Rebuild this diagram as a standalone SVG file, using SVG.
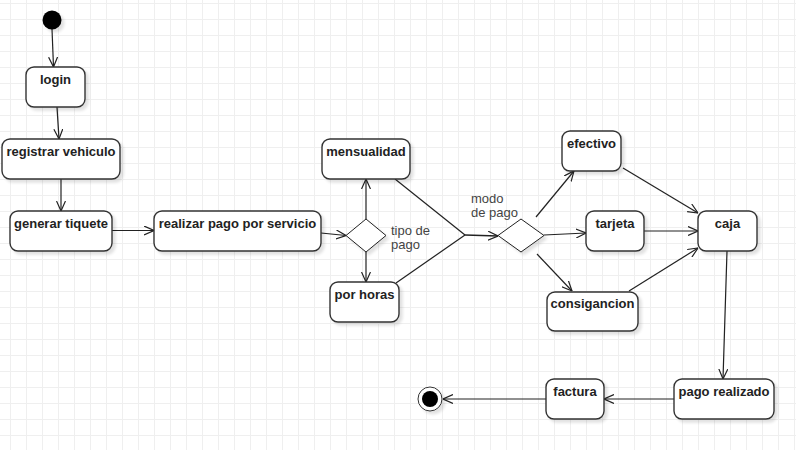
<svg xmlns="http://www.w3.org/2000/svg" width="796" height="450" viewBox="0 0 796 450">
<style>
.node rect{fill:#fff;stroke:#333;stroke-width:1.4;filter:url(#sh)}
.node polygon{fill:#fff;stroke:#222;stroke-width:1;filter:url(#sh)}
.lbl{font-family:"Liberation Sans",Arial,sans-serif;font-size:13px;font-weight:bold;fill:#222;text-anchor:middle}
.note{font-family:"Liberation Sans",Arial,sans-serif;font-size:13px;fill:#444}
.edges line,.edges polyline{stroke:#222;stroke-width:1.2;fill:none}
.arr{marker-end:url(#ah)}
</style>
<defs>
<pattern id="grid" x="10" y="3" width="16" height="16" patternUnits="userSpaceOnUse">
<path d="M0 0.5H16M0.5 0V16" stroke="#efefef" stroke-width="1" fill="none"/>
</pattern>
<filter id="sh" x="-20%" y="-20%" width="150%" height="160%">
<feGaussianBlur in="SourceAlpha" stdDeviation="1.5"/>
<feOffset dx="3" dy="3" result="b"/>
<feComponentTransfer><feFuncA type="linear" slope="0.12"/></feComponentTransfer>
<feMerge><feMergeNode/><feMergeNode in="SourceGraphic"/></feMerge>
</filter>
<marker id="ah" viewBox="0 0 10 10" refX="10" refY="5" markerWidth="10" markerHeight="10" markerUnits="userSpaceOnUse" orient="auto">
<path d="M0,0.5L10,5L0,9.5" fill="none" stroke="#222" stroke-width="1.2"/>
</marker>
</defs>
<rect width="796" height="450" fill="#fff"/>
<rect width="796" height="450" fill="url(#grid)"/>

<g class="edges">
<line class="arr" x1="52" y1="29" x2="53.5" y2="67"/>
<line class="arr" x1="57" y1="107" x2="59" y2="139"/>
<line class="arr" x1="61" y1="179" x2="61" y2="211"/>
<line class="arr" x1="112" y1="230.5" x2="154" y2="230.5"/>
<line class="arr" x1="321" y1="233" x2="346" y2="235.5"/>
<line class="arr" x1="366" y1="219" x2="366" y2="179"/>
<line class="arr" x1="366" y1="252" x2="366" y2="282"/>
<line x1="395" y1="179" x2="465" y2="235"/>
<line x1="396" y1="283" x2="465" y2="235"/>
<line class="arr" x1="465" y1="235" x2="498" y2="236" style="stroke-width:1.6"/>
<line class="arr" x1="536" y1="217" x2="574" y2="171"/>
<line class="arr" x1="544" y1="235" x2="586" y2="233"/>
<line class="arr" x1="537" y1="254" x2="572" y2="291"/>
<line class="arr" x1="623" y1="168" x2="698" y2="213"/>
<line class="arr" x1="644" y1="231" x2="698" y2="231"/>
<line class="arr" x1="629" y1="291" x2="698" y2="248"/>
<line class="arr" x1="727" y1="251" x2="723" y2="379"/>
<line class="arr" x1="674" y1="399" x2="604" y2="399"/>
<line class="arr" x1="546" y1="399" x2="443" y2="399"/>
</g>

<g id="start"><circle cx="52" cy="20" r="9.5" fill="#000" filter="url(#sh)"/></g>
<g id="end"><circle cx="430" cy="399" r="12" fill="#fff" stroke="#333" stroke-width="1" filter="url(#sh)"/><circle cx="430" cy="399" r="8" fill="#000"/></g>

<g id="login" class="node"><rect x="26" y="67" width="59" height="40" rx="8"/><text class="lbl" x="55.5" y="83.5">login</text></g>
<g id="registrar" class="node"><rect x="2" y="139" width="118" height="40" rx="8"/><text class="lbl" x="61" y="155.5">registrar vehiculo</text></g>
<g id="generar" class="node"><rect x="10" y="211" width="102" height="40" rx="8"/><text class="lbl" x="61" y="227.5">generar tiquete</text></g>
<g id="realizar" class="node"><rect x="154" y="211" width="167" height="40" rx="8"/><text class="lbl" x="237.5" y="227.5">realizar pago por servicio</text></g>
<g id="mensualidad" class="node"><rect x="322" y="139" width="88" height="40" rx="8"/><text class="lbl" x="366" y="155.5">mensualidad</text></g>
<g id="porhoras" class="node"><rect x="330" y="282" width="69" height="40" rx="8"/><text class="lbl" x="364.5" y="298.5">por horas</text></g>
<g id="tipo" class="node"><polygon points="366,219 386,235.5 366,252 346,235.5"/><text class="note" x="391" y="235">tipo de<tspan x="391" dy="14">pago</tspan></text></g>
<g id="modo" class="node"><polygon points="521,219 544,235.5 521,252 498,235.5"/><text class="note" x="471" y="203">modo<tspan x="471" dy="14">de pago</tspan></text></g>
<g id="efectivo" class="node"><rect x="562" y="131" width="59" height="40" rx="8"/><text class="lbl" x="591.5" y="147.5">efectivo</text></g>
<g id="tarjeta" class="node"><rect x="586" y="211" width="58" height="40" rx="8"/><text class="lbl" x="615" y="227.5">tarjeta</text></g>
<g id="consigancion" class="node"><rect x="547" y="292" width="91" height="39" rx="8"/><text class="lbl" x="592.5" y="308">consigancion</text></g>
<g id="caja" class="node"><rect x="698" y="211" width="59" height="40" rx="8"/><text class="lbl" x="727.5" y="227.5">caja</text></g>
<g id="pagorealizado" class="node"><rect x="674" y="379" width="100" height="40" rx="8"/><text class="lbl" x="724" y="395.5">pago realizado</text></g>
<g id="factura" class="node"><rect x="546" y="379" width="58" height="40" rx="8"/><text class="lbl" x="575" y="395.5">factura</text></g>
</svg>
